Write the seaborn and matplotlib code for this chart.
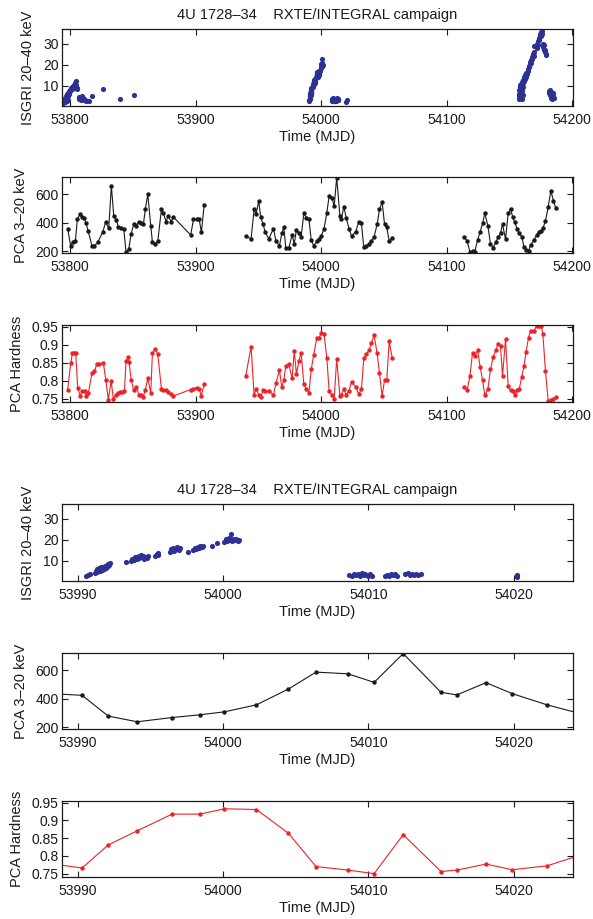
import numpy as np
import pandas as pd
import matplotlib
matplotlib.use("Agg")
import matplotlib.pyplot as plt
import seaborn as sns

# ---------------------------------------------------------------------------
# INTEGRAL/ISGRI 20-40 keV light curve (MJD, count rate)
# ---------------------------------------------------------------------------
isgri_mjd = [
    # season 1
    53794.2, 53794.6, 53795.0, 53795.4, 53795.8, 53796.0, 53796.2, 53796.6, 53797.0, 53797.2,
    53797.4, 53797.8, 53798.2, 53798.4, 53798.6, 53799.0, 53799.4, 53799.8, 53800.2, 53800.6,
    53801.0, 53801.4, 53801.8, 53802.2, 53802.6, 53803.0, 53803.4, 53803.8, 53804.2, 53804.6,
    53805.0, 53805.4, 53805.8,
    53807.0, 53807.5, 53808.0, 53808.5, 53809.0, 53809.5, 53810.0, 53810.5, 53811.0, 53811.5,
    53812.0, 53812.5,
    53815.0, 53817.8, 53826.3, 53840.0, 53850.7,
    # season 2
    53990.55, 53990.70, 53990.85,
    53991.20, 53991.25, 53991.30, 53991.35, 53991.40, 53991.45, 53991.50, 53991.55, 53991.60,
    53991.65, 53991.70, 53991.75, 53991.80, 53991.85, 53991.90, 53991.95, 53992.00, 53992.05,
    53992.10, 53992.15, 53992.20,
    53993.30, 53993.65, 53993.75, 53993.85, 53993.95, 53994.05, 53994.10, 53994.20, 53994.25,
    53994.35, 53994.40, 53994.50, 53994.55, 53994.65, 53994.75, 53994.85,
    53995.35, 53995.45, 53995.50, 53995.55,
    53996.35, 53996.45, 53996.55, 53996.65, 53996.75, 53996.85, 53996.95, 53997.05,
    53997.60,
    53997.95, 53998.05, 53998.15, 53998.25, 53998.35, 53998.45, 53998.55, 53998.65,
    53999.25, 53999.60,
    54000.10, 54000.20, 54000.30, 54000.40, 54000.50, 54000.55, 54000.60, 54000.70, 54000.80,
    54000.90, 54001.00, 54001.10,
    54008.65, 54008.85, 54009.00, 54009.15, 54009.30, 54009.45, 54009.55, 54009.70, 54009.80,
    54009.95, 54010.10, 54010.25,
    54011.15, 54011.30, 54011.45, 54011.55, 54011.70, 54011.85, 54011.95,
    54012.50, 54012.70, 54012.85, 54013.00, 54013.15, 54013.30, 54013.45, 54013.65,
    54020.20, 54020.25,
    # season 3
    54157.4, 54157.6, 54157.8, 54158.0, 54158.2, 54158.4, 54158.6, 54158.8, 54159.0, 54159.2,
    54159.4, 54159.6, 54159.8, 54160.0, 54160.2, 54160.4, 54160.6, 54160.8, 54161.0, 54161.2,
    54161.6, 54162.0, 54162.4, 54162.8, 54163.2, 54163.6, 54164.0, 54164.4,
    54164.8, 54165.2, 54165.6, 54166.0, 54166.4, 54166.8, 54167.2, 54167.6, 54168.0, 54168.4,
    54168.8, 54169.2, 54169.6, 54169.9,
    54171.6, 54172.0, 54172.4, 54172.8, 54173.2, 54173.6, 54174.0, 54174.4, 54174.8, 54175.2,
    54175.6, 54176.0,
    54176.6, 54177.0, 54177.4, 54177.8, 54178.2, 54178.6, 54179.0, 54179.3,
    54181.4, 54181.8, 54182.2, 54182.6, 54183.0, 54183.4, 54183.8, 54184.2, 54184.6, 54185.0,
    54185.4,
]
isgri_rate = [
    # season 1
    1.8, 2.6, 3.2, 2.4, 3.8, 2.2, 4.5, 3.6, 5.2, 2.8,
    4.4, 6.0, 5.4, 3.5, 6.8, 7.4, 6.4, 8.0, 7.6, 8.6,
    9.2, 8.4, 9.6, 10.0, 9.0, 10.3, 9.7, 10.8, 11.5, 12.2,
    10.5, 9.0, 8.4,
    4.8, 3.8, 4.6, 3.4, 4.2, 5.0, 3.6, 4.4, 3.2, 4.0,
    3.5, 3.0,
    2.8, 5.2, 8.5, 3.6, 5.6,
    # season 2
    3.0, 3.4, 3.8,
    4.2, 5.4, 6.1, 4.9, 5.8, 6.7, 5.1, 6.3, 7.0,
    5.7, 6.5, 7.3, 6.2, 7.1, 7.7, 6.8, 8.0, 7.4,
    8.5, 8.1, 8.9,
    9.6, 10.2, 11.0, 10.6, 11.7, 12.1, 10.9, 12.4, 11.4,
    12.8, 11.8, 12.3, 11.0, 12.0, 11.5, 12.4,
    12.3, 13.5, 12.8, 14.0,
    14.4, 15.6, 16.2, 14.9, 15.8, 16.5, 15.2, 15.9,
    14.2,
    15.0, 16.2, 15.5, 16.8, 16.0, 17.3, 16.4, 17.0,
    17.3, 18.3,
    19.2, 20.5, 19.6, 21.0, 20.0, 22.6, 19.4, 20.6, 19.8,
    20.3, 19.5, 20.1,
    3.3, 3.0, 3.9, 3.2, 3.6, 2.9, 4.4, 3.4, 3.9,
    3.1, 3.6, 2.8,
    3.0, 3.5, 2.7, 3.9, 3.2, 3.6, 2.9,
    3.8, 4.3, 3.2, 3.9, 3.4, 3.7, 3.3, 3.6,
    2.6, 3.3,
    # season 3
    4.0, 6.0, 8.0, 5.0, 9.5, 7.0, 10.5, 4.5, 8.5, 11.0,
    6.5, 9.0, 3.8, 10.0, 7.5, 12.0, 5.5, 11.5, 9.5, 13.0,
    12.5, 14.0, 13.2, 15.0, 14.3, 16.2, 15.5, 17.0,
    18.0, 19.5, 18.8, 20.5, 21.5, 20.8, 22.5, 23.5, 22.8, 24.5,
    25.2, 24.0, 26.0, 28.7,
    28.0, 30.0, 29.2, 31.5, 32.5, 31.8, 33.5, 34.5, 33.8, 35.5,
    36.0, 34.8,
    30.0, 28.5, 29.5, 27.0, 26.0, 27.2, 25.0, 24.5,
    7.8, 6.5, 8.2, 5.5, 7.0, 4.5, 6.2, 3.8, 5.0, 6.8,
    4.2,
]

# ---------------------------------------------------------------------------
# RXTE/PCA 3-20 keV count rate
# ---------------------------------------------------------------------------
pca_mjd = [
    53798.1, 53800.5, 53802.1, 53804.2, 53805.8, 53807.7, 53809.6, 53810.9, 53812.7, 53814.3,
    53817.5, 53819.4, 53822.0, 53826.0, 53828.4, 53830.8, 53832.9, 53834.8, 53836.7, 53838.5,
    53840.4, 53842.8, 53844.6, 53846.7, 53848.6, 53850.7, 53852.6, 53854.7, 53856.6, 53858.4,
    53860.0, 53861.9, 53864.3, 53865.6, 53868.0, 53869.9, 53872.8, 53874.4, 53876.5, 53878.1,
    53880.5, 53882.1, 53896.1, 53898.3, 53900.9, 53902.8, 53904.6, 53906.8,
    53940.0, 53944.2, 53946.6, 53948.2, 53950.3, 53951.9, 53953.8, 53955.4, 53958.3, 53962.0,
    53964.1, 53966.8, 53968.7, 53970.3, 53971.8, 53974.2, 53976.9, 53978.6, 53980.3, 53982.3,
    53984.1, 53986.2, 53988.3, 53990.3, 53992.1, 53994.1, 53996.5, 53998.4, 54000.1, 54002.3,
    54004.5, 54006.4, 54008.6, 54010.4, 54012.4, 54015.0, 54016.1, 54018.1, 54019.9, 54022.3,
    54024.2, 54027.6, 54030.0, 54032.1, 54034.0, 54036.1, 54038.2, 54040.1, 54042.2, 54044.6,
    54046.5, 54048.6, 54050.5, 54052.3, 54054.2, 54056.6,
    54114.2, 54116.3, 54118.5, 54120.6, 54122.4, 54124.6, 54126.7, 54128.6, 54130.4, 54132.8,
    54134.9, 54137.1, 54139.2, 54141.0, 54142.9, 54144.5, 54146.9, 54149.0, 54150.9, 54152.7,
    54154.3, 54156.2, 54157.8, 54159.9, 54161.5, 54163.3, 54165.2, 54166.8, 54169.5, 54171.6,
    54173.4, 54175.3, 54176.6, 54178.7, 54180.9, 54183.0, 54185.1, 54187.0,
]
pca_rate = [
    357, 235, 265, 268, 422, 457, 436, 432, 399, 343,
    235, 237, 261, 331, 406, 359, 658, 448, 420, 371,
    364, 354, 190, 211, 317, 389, 375, 406, 399, 387,
    495, 598, 378, 261, 249, 270, 495, 464, 406, 448,
    406, 441, 312, 422, 422, 427, 331, 520,
    305, 284, 492, 462, 551, 436, 387, 333, 286, 357,
    268, 237, 324, 371, 223, 221, 312, 251, 348, 324,
    300, 464, 434, 423, 277, 237, 267, 286, 307, 356,
    467, 586, 574, 514, 716, 444, 426, 512, 435, 356,
    305, 336, 406, 394, 226, 235, 249, 272, 300, 387,
    492, 546, 389, 366, 270, 289,
    296, 270, 195, 198, 195, 277, 336, 394, 464, 378,
    249, 223, 265, 296, 324, 389, 282, 464, 497, 436,
    401, 354, 324, 300, 230, 207, 202, 242, 277, 312,
    333, 343, 359, 410, 511, 623, 551, 499,
]

# ---------------------------------------------------------------------------
# RXTE/PCA hardness ratio
# ---------------------------------------------------------------------------
hr_mjd = [
    53798.1, 53800.5, 53801.9, 53803.2, 53804.5, 53806.1, 53808.0, 53809.6, 53811.7, 53813.0,
    53814.6, 53817.5, 53819.4, 53821.2, 53822.8, 53826.6, 53828.4, 53830.5, 53832.7, 53834.5,
    53836.4, 53838.2, 53839.8, 53841.7, 53843.3, 53844.6, 53846.5, 53847.0, 53848.6, 53850.7,
    53852.9, 53854.7, 53856.6, 53858.4, 53860.0, 53861.9, 53864.3, 53865.6, 53868.0, 53869.9,
    53872.8, 53874.4, 53876.5, 53878.1, 53880.2, 53882.1, 53896.1, 53898.3, 53900.9, 53902.8,
    53904.6, 53906.8,
    53940.0, 53944.2, 53946.6, 53948.2, 53950.3, 53951.9, 53953.8, 53955.4, 53958.3, 53962.0,
    53964.1, 53966.8, 53968.7, 53970.3, 53971.8, 53974.2, 53976.9, 53978.6, 53980.3, 53982.3,
    53984.1, 53986.2, 53988.3, 53990.3, 53992.1, 53994.1, 53996.5, 53998.4, 54000.1, 54002.3,
    54004.5, 54006.4, 54008.6, 54010.4, 54012.4, 54015.0, 54016.1, 54018.1, 54019.9, 54022.3,
    54024.2, 54027.6, 54030.0, 54032.1, 54034.0, 54036.1, 54038.2, 54040.1, 54042.2, 54044.6,
    54046.5, 54048.6, 54050.5, 54052.3, 54054.2, 54056.6,
    54114.2, 54116.3, 54118.5, 54120.6, 54122.4, 54124.6, 54126.7, 54128.6, 54130.4, 54132.8,
    54134.9, 54137.1, 54139.2, 54141.0, 54142.9, 54144.5, 54146.9, 54149.0, 54150.9, 54152.7,
    54154.3, 54156.2, 54157.8, 54159.9, 54161.5, 54163.3, 54165.2, 54166.8, 54169.5, 54171.6,
    54173.4, 54175.3, 54176.6, 54178.7, 54180.9, 54183.0, 54185.1, 54187.0,
]
hr_value = [
    0.775, 0.848, 0.877, 0.877, 0.876, 0.780, 0.758, 0.770, 0.771, 0.757,
    0.766, 0.822, 0.826, 0.845, 0.846, 0.848, 0.803, 0.747, 0.799, 0.750,
    0.759, 0.766, 0.768, 0.769, 0.770, 0.855, 0.866, 0.852, 0.803, 0.773,
    0.783, 0.761, 0.759, 0.755, 0.775, 0.806, 0.766, 0.877, 0.889, 0.873,
    0.776, 0.775, 0.773, 0.769, 0.762, 0.757, 0.775, 0.778, 0.780, 0.777,
    0.757, 0.790,
    0.814, 0.895, 0.760, 0.777, 0.761, 0.755, 0.773, 0.770, 0.771, 0.760,
    0.794, 0.829, 0.781, 0.801, 0.840, 0.846, 0.806, 0.883, 0.818, 0.854,
    0.878, 0.790, 0.777, 0.766, 0.831, 0.871, 0.918, 0.918, 0.933, 0.931,
    0.864, 0.770, 0.760, 0.750, 0.860, 0.756, 0.760, 0.777, 0.761, 0.772,
    0.797, 0.782, 0.762, 0.777, 0.862, 0.873, 0.885, 0.906, 0.926, 0.876,
    0.820, 0.757, 0.801, 0.801, 0.909, 0.864,
    0.781, 0.773, 0.812, 0.877, 0.868, 0.885, 0.838, 0.801, 0.759, 0.776,
    0.831, 0.866, 0.885, 0.903, 0.896, 0.813, 0.916, 0.785, 0.773, 0.770,
    0.759, 0.773, 0.777, 0.810, 0.840, 0.880, 0.920, 0.939, 0.939, 0.952,
    0.952, 0.952, 0.931, 0.827, 0.743, 0.747, 0.750, 0.753,
]

title_text = "4U 1728\u201334    RXTE/INTEGRAL campaign"
isgri_label = "ISGRI 20\u201340 keV"
pca_label = "PCA 3\u201320 keV"
hr_label = "PCA Hardness"
time_label = "Time (MJD)"

wide_xticks = [53800, 53900, 54000, 54100, 54200]
zoom_xticks = [53990, 54000, 54010, 54020]
isgri_yticks = [10, 20, 30]
pca_yticks = [200, 400, 600]
hr_yticks = [0.75, 0.8, 0.85, 0.9, 0.95]
hr_yticklabels = ["0.75", "0.8", "0.85", "0.9", "0.95"]

# ---------------------------------------------------------------------------
sns.set_theme(style="ticks")
plt.rcParams["font.family"] = ["Liberation Sans", "DejaVu Sans"]
plt.rcParams.update({
    "font.size": 10,
    "axes.labelsize": 10.5,
    "axes.titlesize": 10.5,
    "xtick.labelsize": 10,
    "ytick.labelsize": 10,
    "axes.linewidth": 0.9,
    "axes.edgecolor": "#1a1a1a",
    "xtick.direction": "in",
    "ytick.direction": "in",
    "xtick.top": True,
    "ytick.right": True,
    "xtick.major.size": 4,
    "ytick.major.size": 4,
    "xtick.major.width": 0.8,
    "ytick.major.width": 0.8,
    "xtick.major.pad": 5,
    "ytick.major.pad": 2.5,
    "xtick.color": "#1a1a1a",
    "ytick.color": "#1a1a1a",
    "text.color": "#1a1a1a",
    "axes.labelcolor": "#1a1a1a",
})

BLUE = "#2e3192"
BLACK = "#1a1a1a"
RED = "#ec2329"

isgri = pd.DataFrame({"mjd": isgri_mjd, "rate": isgri_rate})
pca = pd.DataFrame({"mjd": pca_mjd, "rate": pca_rate})
hr = pd.DataFrame({"mjd": hr_mjd, "hr": hr_value})
# split the monitoring into separate observing seasons (no line across gaps)
pca["season"] = np.cumsum(np.diff(pca["mjd"], prepend=pca["mjd"].iloc[0]) > 20)
hr["season"] = np.cumsum(np.diff(hr["mjd"], prepend=hr["mjd"].iloc[0]) > 20)

fig = plt.figure(figsize=(5.93, 9.19), dpi=100)
left, width = 0.1046, 0.862
boxes = [
    (0.8847, 0.0838),
    (0.7247, 0.0827),
    (0.5626, 0.0838),
    (0.3678, 0.0838),
    (0.2067, 0.0827),
    (0.0457, 0.0827),
]
axes = [fig.add_axes([left, b, width, h]) for b, h in boxes]

wide_xlim = (53793.6, 54200.8)
zoom_xlim = (53988.92, 54024.1)

for block, (xlim, xticks) in enumerate([(wide_xlim, wide_xticks), (zoom_xlim, zoom_xticks)]):
    ax_i, ax_p, ax_h = axes[3 * block: 3 * block + 3]

    sns.scatterplot(data=isgri, x="mjd", y="rate", ax=ax_i, color=BLUE,
                    s=14, linewidth=0, legend=False)
    ax_i.set_ylim(0.5, 37)
    ax_i.set_yticks(isgri_yticks)
    ax_i.set_ylabel(isgri_label)
    ax_i.set_title(title_text, fontsize=10.5, pad=7)

    sns.lineplot(data=pca, x="mjd", y="rate", units="season", estimator=None,
                 ax=ax_p, color=BLACK, linewidth=0.8, marker="o",
                 markersize=3.2, markeredgewidth=0, sort=True)
    ax_p.set_ylim(186, 720)
    ax_p.set_yticks(pca_yticks)
    ax_p.set_ylabel(pca_label)

    sns.lineplot(data=hr, x="mjd", y="hr", units="season", estimator=None,
                 ax=ax_h, color=RED, linewidth=0.8, marker="o",
                 markersize=3.2, markeredgewidth=0, sort=True)
    ax_h.set_ylim(0.7405, 0.955)
    ax_h.set_yticks(hr_yticks)
    ax_h.set_yticklabels(hr_yticklabels)
    ax_h.set_ylabel(hr_label)

    for ax in (ax_i, ax_p, ax_h):
        ax.set_xlim(*xlim)
        ax.set_xticks(xticks)
        ax.set_xticklabels([str(t) for t in xticks])
        ax.set_xlabel(time_label, labelpad=2)
        ax.yaxis.labelpad = 5.5
        ax.tick_params(which="minor", bottom=False, top=False, left=False, right=False)
        for sp in ax.spines.values():
            sp.set_visible(True)
            sp.set_color("#1a1a1a")

fig.savefig("out.png", dpi=100)
